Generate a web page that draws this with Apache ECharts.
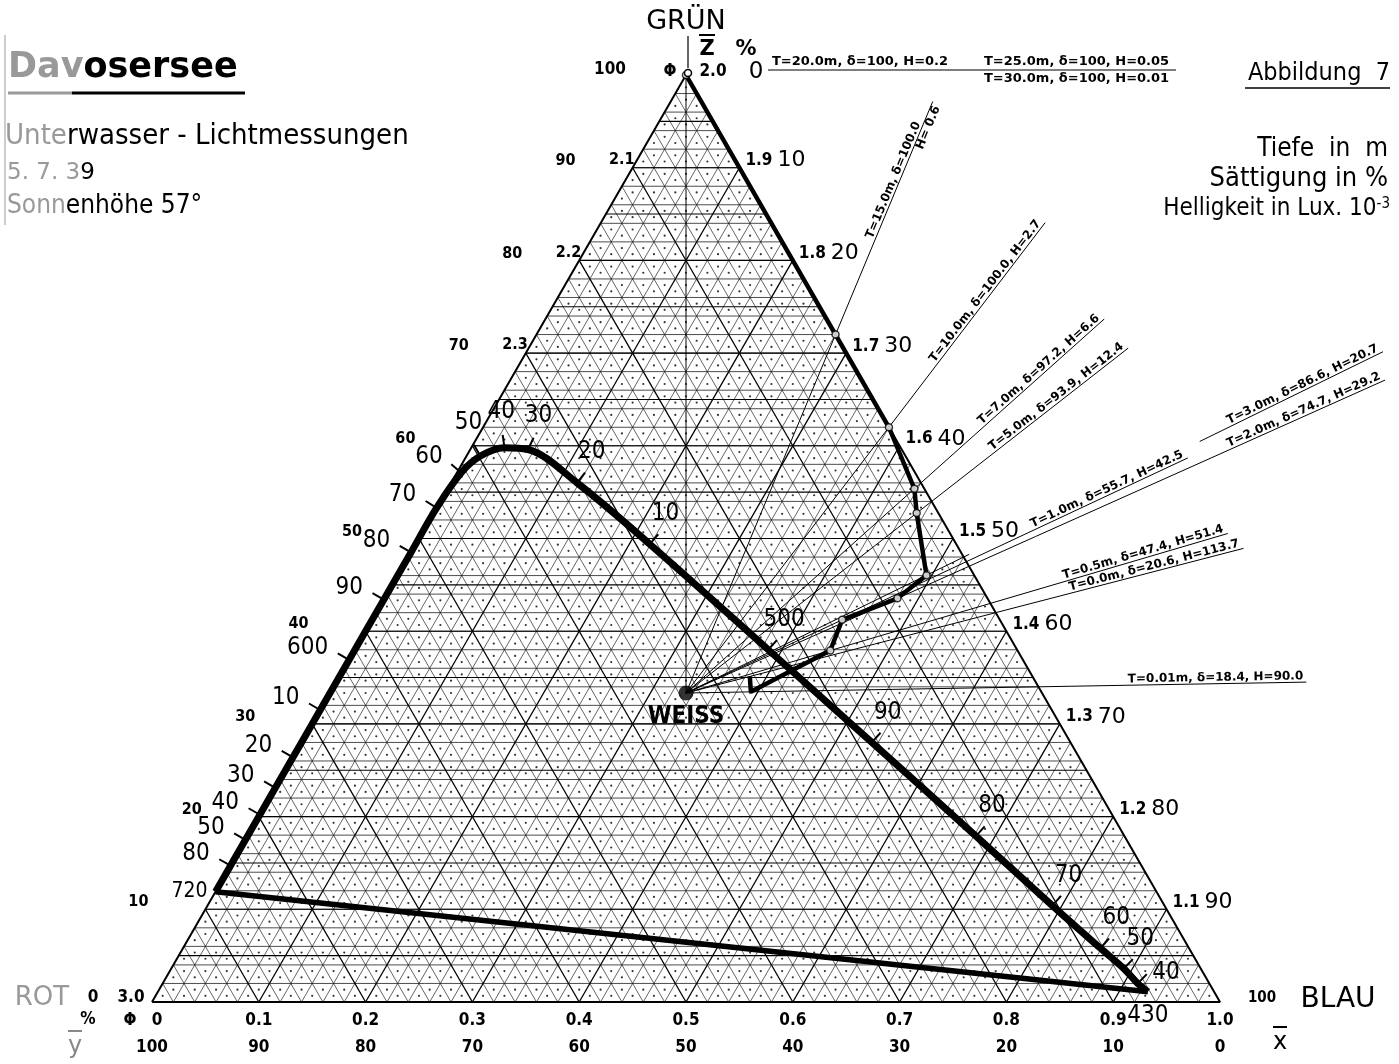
<!DOCTYPE html>
<html><head><meta charset="utf-8">
<script src="https://cdn.jsdelivr.net/npm/echarts/dist/echarts.min.js"></script>
<style>html,body{margin:0;padding:0;background:#fff;}#c{width:1399px;height:1064px;}</style>
</head><body><div id="c"></div>
<script>
// ---------------- DATA ----------------
// spectral locus (wavelength nm) in chromaticity coordinates  x̄ (blue share) and z̄ (green share)
const wavelengths = [720, 680, 650, 640, 630, 620, 610, 600, 590, 580, 570, 560, 550, 540, 530, 520, 510, 500, 490, 480, 470, 460, 450, 440, 430];
const locusXbar   = [0, 0, 0, 0, 0, 0, 0, 0, 0, 0, 0, 0.004, 0.013, 0.031, 0.054, 0.118, 0.219, 0.387, 0.534, 0.682, 0.791, 0.859, 0.892, 0.913, 0.927];
const locusZbar   = [0.119, 0.147, 0.175, 0.202, 0.231, 0.264, 0.315, 0.369, 0.434, 0.485, 0.533, 0.571, 0.589, 0.598, 0.596, 0.560, 0.494, 0.380, 0.280, 0.179, 0.104, 0.058, 0.036, 0.020, 0.011];

// underwater measurements: depth T (m), saturation δ (%), brightness H (Lux·10^-3), hue Φ
const depthT      = [0.0, 0.01, 0.5, 1.0, 2.0, 3.0, 5.0, 7.0, 10.0, 15.0, 20.0, 25.0, 30.0];
const saturation  = [20.6, 18.4, 47.4, 55.7, 74.7, 86.6, 93.9, 97.2, 100, 100, 100, 100, 100];
const brightness  = [113.7, 90.0, 51.4, 42.5, 29.2, 20.7, 12.4, 6.6, 2.7, 0.6, 0.2, 0.05, 0.01];
const huePhi      = [1.42, 1.34, 1.43, 1.475, 1.47, 1.48, 1.54, 1.56, 1.62, 1.72, 2.0, 2.0, 2.0];

// axis tick labels
const xbarTicks   = ['0', '0.1', '0.2', '0.3', '0.4', '0.5', '0.6', '0.7', '0.8', '0.9', '1.0'];
const ybarTicks   = ['100', '90', '80', '70', '60', '50', '40', '30', '20', '10', '0'];
const leftPctTicks = [90, 80, 70, 60, 50, 40, 30, 20, 10];
const leftPhiTicks = [2.1, 2.2, 2.3];
const rightPhiTicks = [1.9, 1.8, 1.7, 1.6, 1.5, 1.4, 1.3, 1.2, 1.1];
const rightPctTicks = [10, 20, 30, 40, 50, 60, 70, 80, 90];

// ---------------- LAYOUT (not data) ----------------
const labelReach = [1.80, 1.76, 1.78, 1.79, 2.47, 2.51, 1.80, 1.78, 1.77, 1.65];
const labelGap   = {5: [1.02, 1.85]};
const MESH_N = 50;

// ---------------- helpers ----------------
const WHITE = [1/3, 1/3];
function uv(xb, zb) { return [xb + zb / 2, zb]; }
function edgeFromPhi(phi) { return [2 - phi, phi - 1]; }
function depthPoint(i) {
  const e = edgeFromPhi(huePhi[i]), s = saturation[i] / 100;
  return [WHITE[0] + s * (e[0] - WHITE[0]), WHITE[1] + s * (e[1] - WHITE[1])];
}
function reachPoint(i, k) {
  const e = edgeFromPhi(huePhi[i]);
  return [WHITE[0] + k * (e[0] - WHITE[0]), WHITE[1] + k * (e[1] - WHITE[1])];
}
function fmtT(T) { return (T > 0 && T < 0.1) ? String(T) : T.toFixed(1); }
function depthLabel(i) {
  const s = depthT[i] >= 20 ? String(saturation[i]) : saturation[i].toFixed(1);
  const h = brightness[i] >= 1 ? brightness[i].toFixed(1) : String(brightness[i]);
  return 'T=' + fmtT(depthT[i]) + 'm, δ=' + s + ', H=' + h;
}
const FAM = '"DejaVu Sans Condensed", "DejaVu Sans", sans-serif';
const LBL = 'bold 13px "DejaVu Sans", sans-serif';
const RLBL = 'bold 12px "DejaVu Sans", sans-serif';
const TICKF = 'bold 17px ' + FAM;
const SMALLF = 'bold 16px ' + FAM;
const BIGF = '22px "DejaVu Sans", sans-serif';
function txt(x, y, text, font, align, valign, extra) {
  return Object.assign({ type: 'text', x: x, y: y, style: { text: text, font: font, fill: '#000',
    align: align, textAlign: align, verticalAlign: valign, textVerticalAlign: valign } }, extra || {});
}

// mesh
const meshLines = [];
for (let k = 1; k < MESH_N; k++) {
  const c = k / MESH_N;
  const major = k % (MESH_N / 10) === 0;
  meshLines.push([c / 2, c, 1 - c / 2, c, 0.6]);
  meshLines.push([c, 0, c + (1 - c) / 2, 1 - c, major ? 2 : 0]);
  meshLines.push([1 - c, 0, (1 - c) / 2, 1 - c, major ? 2 : 0]);
}
for (let k = 1; k < 20; k++) {
  const c = k / 20;
  meshLines.push([c / 2, c, 1 - c / 2, c, 1.5]);
}
const meshDots = [];
for (let i = 0; i < MESH_N; i++) for (let j = 0; i + j < MESH_N; j++) {
  meshDots.push(uv((i + 1 / 3) / MESH_N, (j + 1 / 3) / MESH_N));
  if (i + j < MESH_N - 1) meshDots.push(uv((i + 2 / 3) / MESH_N, (j + 2 / 3) / MESH_N));
}

const locusData = wavelengths.map((w, i) => uv(locusXbar[i], locusZbar[i]));
const purpleData = [locusData[locusData.length - 1], locusData[0]];
const pathData = depthT.slice(0, 11).map((t, i) => uv(...depthPoint(i)));
const markerData = depthT.slice(2, 11).map((t, j) => uv(...depthPoint(j + 2)));

// edge tick label items
const tickItems = [];
leftPctTicks.forEach(p => tickItems.push({ value: uv(0, p / 100), t: String(p), dx: -57, dy: -7, a: 'right', f: SMALLF }));
leftPhiTicks.forEach(p => tickItems.push({ value: uv(0, 3 - p), t: p.toFixed(1), dx: 2, dy: -8, a: 'right', f: SMALLF }));
rightPhiTicks.forEach(p => tickItems.push({ value: uv(2 - p, p - 1), t: p.toFixed(1), dx: 6, dy: -7, a: 'left', f: TICKF }));
rightPctTicks.forEach(p => tickItems.push({ value: uv(p / 100, 1 - p / 100), t: String(p), dx: 38, dy: -7, a: 'left', f: BIGF }));
xbarTicks.forEach((t, i) => tickItems.push({ value: uv(i / 10, 0), t: t, dx: i === 0 ? 5 : 0, dy: 19, a: 'center', f: TICKF }));
ybarTicks.forEach((t, i) => tickItems.push({ value: uv(i / 10, 0), t: t, dx: 0, dy: 46, a: 'center', f: TICKF }));

const chart = echarts.init(document.getElementById('c'), null, { renderer: 'canvas' });
const option = {
  animation: false,
  backgroundColor: '#fff',
  grid: { left: 152, top: 75, width: 1068, height: 927 },
  xAxis: { type: 'value', min: 0, max: 1, show: false },
  yAxis: { type: 'value', min: 0, max: 1, show: false },
  series: [
    { // triangular mesh
      type: 'custom', z: 1, clip: false, silent: true,
      data: meshLines,
      renderItem: function (params, api) {
        const a = api.coord([api.value(0), api.value(1)]), b = api.coord([api.value(2), api.value(3)]);
        const w = api.value(4);
        return { type: 'line', shape: { x1: a[0], y1: a[1], x2: b[0], y2: b[1] },
          style: { stroke: w >= 1.5 ? '#000' : '#111', lineWidth: w >= 2 ? 1.3 : (w >= 1.5 ? 1.1 : (w > 0 ? 0.75 : 0.65)) } };
      }
    },
    { type: 'scatter', z: 1, silent: true, symbolSize: 2.2, itemStyle: { color: '#000' }, data: meshDots },
    { // triangle outline
      type: 'line', z: 2, silent: true, symbol: 'none', lineStyle: { color: '#000', width: 2 },
      data: [[0, 0], [1, 0], [0.5, 1], [0, 0]]
    },
    { // spectral locus
      type: 'line', z: 4, silent: true, symbol: 'none', smooth: 0.35, clip: false,
      lineStyle: { color: '#000', width: 7 }, data: locusData
    },
    { // purple line
      type: 'line', z: 4, silent: true, symbol: 'none', lineStyle: { color: '#000', width: 5.5 }, data: purpleData
    },
    { // locus wavelength ticks + labels
      type: 'custom', z: 5, clip: false, silent: true,
      data: wavelengths.map((w, i) => [i]),
      renderItem: function (params, api) {
        const i = params.dataIndex, n = wavelengths.length;
        const p = api.coord(locusData[i]);
        const a = api.coord(locusData[Math.max(0, i - 1)]), b = api.coord(locusData[Math.min(n - 1, i + 1)]);
        let tx = b[0] - a[0], ty = b[1] - a[1]; const L = Math.hypot(tx, ty); tx /= L; ty /= L;
        let nx = -ty, ny = tx;
        const wp = api.coord(uv(WHITE[0], WHITE[1]));
        if ((p[0] - wp[0]) * nx + (p[1] - wp[1]) * ny < 0) { nx = -nx; ny = -ny; }
        const w = wavelengths[i];
        const label = (w === 720 || w === 600 || w === 500 || w === 430) ? String(w) : String(w).slice(1);
        const children = [];
        let tick = true, d = 24;
        let lx = nx, ly = ny;
        if (w === 720) { nx = -1; ny = 0; lx = nx; ly = ny; tick = false; d = 8; }
        if (w === 430) { nx = 0; ny = 1; lx = nx; ly = ny; tick = false; d = 12; }
        if (w === 440) { lx = 0.94; ly = -0.34; }
        if (tick) children.push({ type: 'line', shape: { x1: p[0], y1: p[1], x2: p[0] + 13 * nx, y2: p[1] + 13 * ny }, style: { stroke: '#000', lineWidth: 2 } });
        const al = (lx < -0.7) ? 'right' : ((lx > 0.7 && w !== 440) ? 'left' : 'center');
        const va = ly < -0.7 ? 'bottom' : (ly > 0.7 ? 'top' : 'middle');
        const dd = (al === 'center' && va === 'middle') ? (w === 510 ? 24 : 30) : d;
        children.push(txt(p[0] + dd * lx, p[1] + dd * ly, label, (w === 720 ? '21px ' : '24px ') + FAM, al, va));
        return { type: 'group', children: children };
      }
    },
    { // rays from white point to each measurement + labels
      type: 'custom', z: 3, clip: false, silent: true,
      data: depthT.map((t, i) => [i]),
      renderItem: function (params, api) {
        const i = params.dataIndex;
        const w = api.coord(uv(WHITE[0], WHITE[1]));
        const children = [];
        if (huePhi[i] >= 2) {
          const apex = api.coord(uv(...edgeFromPhi(huePhi[i])));
          const ly = apex[1] - 5;
          if (depthT[i] === 20) {
            children.push({ type: 'line', shape: { x1: w[0], y1: w[1], x2: apex[0], y2: apex[1] }, style: { stroke: '#000', lineWidth: 1 } });
            children.push({ type: 'line', shape: { x1: apex[0] + 82, y1: ly, x2: apex[0] + 490, y2: ly }, style: { stroke: '#000', lineWidth: 1.2 } });
            children.push(txt(apex[0] + 86, ly - 2, depthLabel(i), LBL, 'left', 'bottom'));
          } else if (depthT[i] === 25) {
            children.push(txt(apex[0] + 298, ly - 2, depthLabel(i), LBL, 'left', 'bottom'));
          } else {
            children.push(txt(apex[0] + 298, ly + 2, depthLabel(i), LBL, 'left', 'top'));
          }
          return { type: 'group', children: children };
        }
        const end = api.coord(uv(...reachPoint(i, labelReach[i])));
        if (labelGap[i]) {
          const g1 = api.coord(uv(...reachPoint(i, labelGap[i][0]))), g2 = api.coord(uv(...reachPoint(i, labelGap[i][1])));
          children.push({ type: 'line', shape: { x1: w[0], y1: w[1], x2: g1[0], y2: g1[1] }, style: { stroke: '#000', lineWidth: 1 } });
          children.push({ type: 'line', shape: { x1: g2[0], y1: g2[1], x2: end[0], y2: end[1] }, style: { stroke: '#000', lineWidth: 1 } });
        } else {
          children.push({ type: 'line', shape: { x1: w[0], y1: w[1], x2: end[0], y2: end[1] }, style: { stroke: '#000', lineWidth: 1 } });
        }
        const dx = end[0] - w[0], dy = end[1] - w[1], L = Math.hypot(dx, dy);
        const rot = Math.atan2(-dy, dx);
        const ex = end[0] - 3 * dx / L, ey = end[1] - 3 * dy / L;
        if (depthT[i] === 15) {
          const t = depthLabel(i).split(', H=');
          children.push(txt(ex - 22 * dx / L, ey - 22 * dy / L, t[0], RLBL, 'right', 'bottom', { rotation: rot }));
          children.push(txt(ex, ey, 'H= ' + t[1], RLBL, 'right', 'top', { rotation: rot }));
        } else {
          children.push(txt(ex, ey, depthLabel(i), RLBL, 'right', 'bottom', { rotation: rot }));
        }
        if (i === 0) children.push(txt(w[0], w[1] + 12, 'WEISS', 'bold 24px ' + FAM, 'center', 'top', { z2: 50 }));
        return { type: 'group', children: children };
      }
    },
    { // measured colour path
      type: 'line', z: 6, silent: true, symbol: 'none', lineStyle: { color: '#000', width: 4.5 }, data: pathData
    },
    { type: 'scatter', z: 7, silent: true, symbol: 'circle', symbolSize: 7,
      itemStyle: { color: '#fff', borderColor: '#000', borderWidth: 1.5 }, data: markerData },
    { type: 'scatter', z: 7, silent: true, symbol: 'circle', symbolSize: 15, itemStyle: { color: '#000' },
      data: [uv(WHITE[0], WHITE[1])] },
    { // edge tick labels
      type: 'custom', z: 5, clip: false, silent: true,
      data: tickItems.map(t => t.value),
      renderItem: function (params, api) {
        const it = tickItems[params.dataIndex];
        const p = api.coord(it.value);
        return txt(p[0] + it.dx, p[1] + it.dy, it.t, it.f, it.a, 'middle');
      }
    }
  ],
  graphic: [
    { type: 'line', shape: { x1: 688, y1: 36, x2: 688, y2: 68 }, style: { stroke: '#000', lineWidth: 1.2 } },
    { type: 'circle', shape: { cx: 688, cy: 73, r: 3.5 }, style: { fill: '#fff', stroke: '#000', lineWidth: 1.5 }, z: 100 },
    txt(686, 22, 'GRÜN', '27px "DejaVu Sans", sans-serif', 'center', 'middle'),
    txt(707, 50, 'Z', 'bold 21px "DejaVu Sans", sans-serif', 'center', 'middle'),
    { type: 'line', shape: { x1: 699, y1: 35, x2: 715, y2: 35 }, style: { stroke: '#000', lineWidth: 2 } },
    txt(746, 50, '%', 'bold 21px "DejaVu Sans", sans-serif', 'center', 'middle'),
    txt(756, 72, '0', '23px "DejaVu Sans", sans-serif', 'center', 'middle'),
    txt(610, 70, '100', TICKF, 'center', 'middle'),
    txt(670, 72, 'Φ', TICKF, 'center', 'middle'),
    txt(713, 72, '2.0', TICKF, 'center', 'middle'),
    { type: 'text', x: 42, y: 998, style: { text: 'ROT', font: '26px "DejaVu Sans", sans-serif', fill: '#999', align: 'center', textAlign: 'center', verticalAlign: 'middle', textVerticalAlign: 'middle' } },
    txt(93, 998, '0', TICKF, 'center', 'middle'),
    txt(131, 998, '3.0', TICKF, 'center', 'middle'),
    txt(88, 1020, '%', TICKF, 'center', 'middle'),
    txt(130, 1021, 'Φ', TICKF, 'center', 'middle'),
    { type: 'text', x: 75, y: 1047, style: { text: 'y', font: '24px "DejaVu Sans", sans-serif', fill: '#888', align: 'center', textAlign: 'center', verticalAlign: 'middle', textVerticalAlign: 'middle' } },
    { type: 'line', shape: { x1: 68, y1: 1031, x2: 82, y2: 1031 }, style: { stroke: '#888', lineWidth: 2 } },
    txt(1262, 998, '100', 'bold 15px ' + FAM, 'center', 'middle'),
    txt(1338, 1000, 'BLAU', '28px "DejaVu Sans", sans-serif', 'center', 'middle'),
    txt(1280, 1043, 'x', '24px "DejaVu Sans", sans-serif', 'center', 'middle'),
    { type: 'line', shape: { x1: 1273, y1: 1027, x2: 1287, y2: 1027 }, style: { stroke: '#000', lineWidth: 2 } },
    // title block
    { type: 'line', shape: { x1: 5, y1: 35, x2: 5, y2: 225 }, style: { stroke: '#bbb', lineWidth: 1.5 } },
    { type: 'text', x: 8, y: 68, style: { text: '{g|Dav}{b|osersee}', verticalAlign: 'middle', textVerticalAlign: 'middle',
      rich: { g: { font: 'bold 35px "DejaVu Sans", sans-serif', fill: '#999', color: '#999' }, b: { font: 'bold 35px "DejaVu Sans", sans-serif', fill: '#000', color: '#000' } } } },
    { type: 'line', shape: { x1: 8, y1: 93, x2: 72, y2: 93 }, style: { stroke: '#999', lineWidth: 3 } },
    { type: 'line', shape: { x1: 72, y1: 93, x2: 245, y2: 93 }, style: { stroke: '#000', lineWidth: 3 } },
    { type: 'text', x: 5, y: 136, style: { text: '{g|Unte}{b|rwasser - Lichtmessungen}', verticalAlign: 'middle', textVerticalAlign: 'middle',
      rich: { g: { font: '29px ' + FAM, fill: '#999', color: '#999' }, b: { font: '29px ' + FAM, fill: '#000', color: '#000' } } } },
    { type: 'text', x: 7, y: 173, style: { text: '{g|5. 7. 3}{b|9}', verticalAlign: 'middle', textVerticalAlign: 'middle',
      rich: { g: { font: '23px "DejaVu Sans", sans-serif', fill: '#999', color: '#999' }, b: { font: '23px "DejaVu Sans", sans-serif', fill: '#000', color: '#000' } } } },
    { type: 'text', x: 7, y: 206, style: { text: '{g|Sonn}{b|enhöhe 57°}', verticalAlign: 'middle', textVerticalAlign: 'middle',
      rich: { g: { font: '26px ' + FAM, fill: '#999', color: '#999' }, b: { font: '26px ' + FAM, fill: '#000', color: '#000' } } } },
    txt(1390, 73, 'Abbildung  7', '25px ' + FAM, 'right', 'middle'),
    { type: 'line', shape: { x1: 1245, y1: 88, x2: 1390, y2: 88 }, style: { stroke: '#000', lineWidth: 1.5 } },
    txt(1388, 149, 'Tiefe  in  m', '26px ' + FAM, 'right', 'middle'),
    txt(1388, 179, 'Sättigung in %', '27px ' + FAM, 'right', 'middle'),
    { type: 'text', x: 1390, y: 209, style: { text: '{a|Helligkeit in Lux. 10}{s|-3}', align: 'right', textAlign: 'right', verticalAlign: 'middle', textVerticalAlign: 'middle',
      rich: { a: { font: '24px ' + FAM, fill: '#000', color: '#000' }, s: { font: '15px ' + FAM, fill: '#000', color: '#000', verticalAlign: 'top', padding: [0, 0, 10, 0] } } } }
  ]
};
chart.setOption(option);
</script>
</body></html>
